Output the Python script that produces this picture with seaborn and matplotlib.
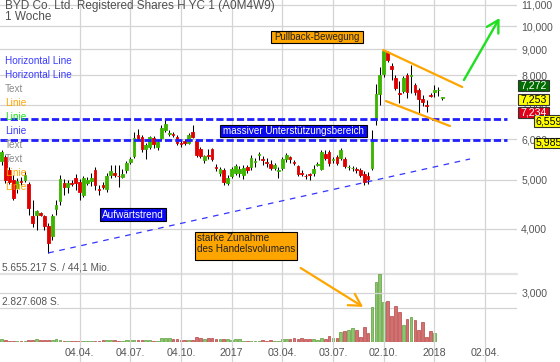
import numpy as np
import pandas as pd
import matplotlib
matplotlib.use("Agg")
import matplotlib.pyplot as plt
import matplotlib.dates as mdates
import matplotlib.transforms as mtransforms
from matplotlib.patches import Rectangle
from matplotlib.ticker import FixedLocator, FuncFormatter, NullLocator, NullFormatter
import seaborn as sns

sns.set_theme(style="white")
plt.rcParams['font.family'] = ['Liberation Sans', 'DejaVu Sans']

# ---------------- data ----------------
title = "BYD Co. Ltd. Registered Shares H YC 1 (A0M4W9)"
period = "1 Woche"
first_week = "2015-11-16"

open_ = [
    5437, 5537, 5221, 4991, 4812, 4970, 4991, 4900, 4240, 4261,
    4290, 4240, 4050, 3875, 4380, 4540, 4924, 4840, 4930, 5035,
    4946, 4664, 4924, 4970, 5221, 4790, 4879, 4790, 5104, 5150,
    5090, 5060, 5221, 5410, 5560, 6114, 6060, 5740, 5790, 6030,
    5790, 6030, 6254, 6140, 6140, 6060, 5900, 5950, 5900, 6200,
    5950, 5740, 5462, 5580, 5740, 5280, 5150, 5221, 4920, 5080,
    5150, 5150, 5104, 5290, 5290, 5420, 5590, 5490, 5420, 5365,
    5270, 5200, 5270, 5490, 5537, 5420, 5315, 5150, 5090, 5120,
    5150, 5340, 5250, 5612, 5660, 5462, 5537, 5510, 5490, 5280,
    5260, 5250, 5221, 5130, 5080, 5270, 6543, 7350, 8050, 8900,
    8350, 7900, 7390, 7450, 8030, 7990, 7663, 7490, 7200, 6990,
    7330, 7420, 7480, 7230]
close = [
    5663, 4991, 4946, 4600, 4970, 4950, 5104, 4400, 4110, 4340,
    4270, 4050, 3760, 4240, 4458, 5010, 4840, 4924, 4910, 4924,
    4730, 5035, 4990, 5035, 4879, 4770, 4835, 5080, 5200, 5104,
    5080, 5130, 5390, 5490, 6030, 6000, 5740, 5845, 6060, 5870,
    5925, 6315, 6425, 6170, 6115, 5900, 5870, 5900, 6114, 6060,
    5587, 5560, 5560, 5560, 5490, 5260, 5250, 4946, 5035, 5250,
    5315, 5250, 5270, 5221, 5510, 5440, 5612, 5462, 5390, 5270,
    5340, 5221, 5490, 5587, 5490, 5400, 5130, 5130, 5080, 5100,
    5250, 5365, 5660, 5510, 5390, 5490, 5390, 5714, 5315, 5290,
    5270, 5230, 5104, 4946, 5010, 5950, 7350, 8017, 8950, 8580,
    8230, 7550, 7360, 7920, 7420, 8017, 7420, 7200, 7090, 6970,
    7300, 7490, 7500, 7253]
high = [
    5714, 5587, 5280, 5104, 5030, 5050, 5200, 4946, 4560, 4358,
    4320, 4261, 4110, 4280, 4560, 5104, 5010, 4991, 4990, 5130,
    5010, 5080, 5050, 5160, 5290, 4880, 4946, 5140, 5340, 5340,
    5340, 5250, 5440, 5537, 6200, 6280, 6114, 5900, 6090, 6090,
    5978, 6396, 6570, 6254, 6200, 6114, 5978, 6000, 6170, 6400,
    6000, 5800, 5590, 5740, 5760, 5365, 5290, 5270, 5104, 5290,
    5365, 5315, 5340, 5340, 5587, 5510, 5660, 5560, 5510, 5462,
    5390, 5290, 5537, 5640, 5560, 5462, 5340, 5221, 5130, 5150,
    5340, 5410, 5714, 5714, 5714, 5537, 5587, 5770, 5537, 5340,
    5315, 5290, 5270, 5200, 5170, 6254, 7700, 8330, 8977, 8950,
    8460, 8017, 7800, 7980, 8090, 8388, 7730, 7560, 7324, 7160,
    7390, 7663, 7600, 7272]
low = [
    5340, 4924, 4900, 4560, 4700, 4880, 4950, 4261, 4030, 3982,
    4240, 3982, 3590, 3806, 4261, 4458, 4664, 4700, 4850, 4770,
    4560, 4620, 4880, 4850, 4770, 4664, 4790, 4720, 5035, 5060,
    4840, 5035, 5150, 5365, 5510, 5978, 5660, 5490, 5740, 5770,
    5714, 5978, 6200, 6090, 6060, 5845, 5800, 5845, 5870, 6030,
    5540, 5510, 5400, 5490, 5440, 5200, 5080, 4879, 4879, 5035,
    5104, 5060, 5010, 5150, 5221, 5290, 5462, 5340, 5290, 5221,
    5221, 5035, 5221, 5420, 5390, 5340, 5080, 5080, 5010, 4991,
    5080, 5315, 5221, 5462, 5315, 5390, 5340, 5462, 5270, 5221,
    5200, 5150, 5060, 4879, 4900, 5221, 6396, 7000, 7950, 8500,
    7840, 7490, 7070, 7390, 7220, 7390, 7324, 6750, 6970, 6780,
    7260, 7250, 7290, 7160]
volume_mio = [
    0.20, 0.14, 0.08, 0.08, 0.06, 0.06, 0.06, 0.17, 0.17, 0.22,
    0.17, 0.14, 0.14, 0.14, 0.20, 0.14, 0.08, 0.06, 0.06, 0.06,
    0.06, 0.06, 0.06, 0.08, 0.06, 0.06, 0.14, 0.14, 0.17, 0.14,
    0.06, 0.06, 0.11, 0.14, 0.17, 0.14, 0.14, 0.14, 0.11, 0.06,
    0.06, 0.28, 0.31, 0.31, 0.22, 0.19, 0.14, 0.14, 0.14, 0.17,
    0.36, 0.31, 0.25, 0.28, 0.33, 0.25, 0.19, 0.19, 0.19, 0.17,
    0.19, 0.19, 0.06, 0.04, 0.04, 0.04, 0.04, 0.14, 0.06, 0.14,
    0.06, 0.06, 0.20, 0.20, 0.20, 0.28, 0.22, 0.33, 0.20, 0.20,
    0.20, 0.14, 0.31, 0.25, 0.47, 0.31, 0.31, 0.78, 0.92, 0.98,
    1.11, 0.98, 0.42, 1.20, 0.75, 2.93, 4.96, 5.655, 3.29, 3.43,
    2.15, 2.98, 2.48, 1.37, 1.87, 2.09, 1.81, 0.98, 1.64, 0.36,
    0.92, 0.70, 0.00, 0.00]
volume_max_mio = 5.655217

tick_dates = ["2016-04-04", "2016-07-04", "2016-10-04", "2017-01-02", "2017-04-03",
              "2017-07-03", "2017-10-02", "2018-01-01", "2018-04-02"]
tick_labels = ["04.04.", "04.07.", "04.10.", "2017", "03.04.", "03.07.", "02.10.", "2018", "02.04."]
price_ticks = [3000, 4000, 5000, 6000, 7000, 8000, 9000, 10000, 11000]

support_levels = [6559, 5985]
support_end = "2018-05-11"
uptrend_dates = ["2016-02-08", "2018-03-06"]
uptrend_prices = [3590, 5487]
channel_upper_dates = ["2017-10-01", "2018-02-20"]
channel_upper_prices = [8977, 7593]
channel_lower_dates = ["2017-10-06", "2018-01-29"]
channel_lower_prices = [7128, 6367]
green_arrow_dates = ["2018-02-23", "2018-04-28"]
green_arrow_prices = [7837, 10368]
volume_arrow_dates = ["2017-05-06", "2017-08-26"]
volume_arrow_prices = [3354, 2814]

legend_items = [("Horizontal Line", "#3b3bff"), ("Horizontal Line", "#3b3bff"), ("Text", "#8c8c8c"),
                ("Linie", "#ffa500"), ("Linie", "#1ee81e"), ("Linie", "#3b3bff"), ("Text", "#8c8c8c"),
                ("Text", "#8c8c8c"), ("Linie", "#ffa500"), ("Linie", "#ffa500")]

# ---------------- layout helpers ----------------
W, H = 560, 362
def fx(px): return px / W
def fy(py): return 1 - py / H

fig = plt.figure(figsize=(W / 100, H / 100), dpi=100)
fig.patch.set_facecolor("white")

ax_v = fig.add_axes([0, fy(341.7), fx(517), (341.7 - 274) / H], zorder=0)
ax = fig.add_axes([0, 0, fx(517), 1], zorder=1)
ax.patch.set_alpha(0)

dates = pd.date_range(first_week, periods=len(open_), freq="7D")
xd = mdates.date2num(dates)
def dn(s): return mdates.date2num(pd.Timestamp(s))

px_per_day = 3.9 / 7
xmin = xd[0] - 1.5 / px_per_day
xmax = xmin + 517 / px_per_day
ax.set_xlim(xmin, xmax)
ax_v.set_xlim(xmin, xmax)

ax.set_yscale("log")
ax.set_ylim(2194, 11248)
ax.yaxis.set_major_locator(FixedLocator(price_ticks))
ax.yaxis.set_minor_locator(NullLocator())
ax.yaxis.set_minor_formatter(NullFormatter())
ax.yaxis.set_major_formatter(FuncFormatter(lambda v, p: f"{int(round(v)):,}"))
ax.yaxis.tick_right()
ax.tick_params(axis="y", length=0, pad=3, labelsize=7.6, labelcolor="#555555")
ax.set_xticks(mdates.date2num(pd.to_datetime(tick_dates)))
ax.set_xticklabels([])
ax.tick_params(axis="x", length=0)
ax.grid(True, color="#d4d4d4", lw=0.9)
for s in ax.spines.values():
    s.set_visible(False)
ax_v.axis("off")

trans = mtransforms.blended_transform_factory(ax.transData, ax.transAxes)
for d, lab in zip(tick_dates, tick_labels):
    ax.text(dn(d), fy(353), lab, transform=trans, ha="center", va="center",
            fontsize=7.7, color="#555555")

# ---------------- volume ----------------
o = np.array(open_, float); c = np.array(close, float)
h = np.array(high, float); l = np.array(low, float)
up = c >= o
vol_fc = np.where(up, "#8cc66c", "#d57070")
vol_ec = np.where(up, "#5c9c3c", "#b54545")
ax_v.bar(xd, volume_mio, width=4.7, color=vol_fc, edgecolor=vol_ec, lw=0.5, zorder=2)
ax_v.set_ylim(0, volume_max_mio)
ax_v.axhline(volume_max_mio, color="#e2e2e2", lw=1.6, zorder=1, clip_on=False)
ax_v.axhline(volume_max_mio / 2, color="#d4d4d4", lw=0.9, zorder=1)
fig.text(fx(2), fy(268), "5.655.217 S. / 44,1 Mio.", fontsize=7.3, color="#555555", va="center")
fig.text(fx(2), fy(302), "2.827.608 S.", fontsize=7.3, color="#555555", va="center")

# ---------------- candles ----------------
body_c = np.where(up, "#3cb400", "#e00000")
ax.vlines(xd, l, h, color="black", lw=0.75, zorder=3)
ax.bar(xd, np.abs(c - o), bottom=np.minimum(o, c), width=4.8, color=body_c,
       edgecolor=body_c, lw=0.6, zorder=4)

# ---------------- drawn lines ----------------
ax.hlines(support_levels, xmin, dn(support_end), colors="#1f1fff", lw=2.0,
          linestyles=(0, (2.6, 1.1)), zorder=5)
ax.plot([dn(d) for d in uptrend_dates], uptrend_prices, color="#3434ff", lw=0.9,
        dashes=(4.5, 4.5), zorder=5)
ax.plot([dn(d) for d in channel_upper_dates], channel_upper_prices, color="#ffa500", lw=1.6, zorder=5)
ax.plot([dn(d) for d in channel_lower_dates], channel_lower_prices, color="#ffa500", lw=1.6, zorder=5)
ax.annotate("", xy=(dn(green_arrow_dates[1]), green_arrow_prices[1]),
            xytext=(dn(green_arrow_dates[0]), green_arrow_prices[0]),
            arrowprops=dict(arrowstyle="->,head_length=0.7,head_width=0.4", color="#1ee01e",
                            lw=1.7, mutation_scale=12, shrinkA=0, shrinkB=0), zorder=6)
ax.annotate("", xy=(dn(volume_arrow_dates[1]), volume_arrow_prices[1]),
            xytext=(dn(volume_arrow_dates[0]), volume_arrow_prices[0]),
            arrowprops=dict(arrowstyle="->,head_length=0.7,head_width=0.4", color="#ffa500",
                            lw=1.6, mutation_scale=12, shrinkA=0, shrinkB=0), zorder=6)

# ---------------- boxes / texts ----------------
def box(x0, y0, x1, y1, fc, ec="black"):
    fig.patches.append(Rectangle((fx(x0), fy(y1)), fx(x1) - fx(x0), fy(y0) - fy(y1),
                                 transform=fig.transFigure, facecolor=fc, edgecolor=ec,
                                 lw=0.8, zorder=5))

box(271, 31, 363, 43, "#ffa500")
fig.text(fx(317), fy(37.3), "Pullback-Bewegung", fontsize=7, color="#222222", ha="center", va="center", zorder=6)
box(220, 125, 367, 137, "#0a0af0")
fig.text(fx(293.5), fy(131.3), "massiver Unterstützungsbereich", fontsize=7.1, color="white", ha="center", va="center", zorder=6)
box(100, 208, 166, 221, "#0a0af0")
fig.text(fx(133), fy(214.8), "Aufwärtstrend", fontsize=7.2, color="white", ha="center", va="center", zorder=6)
box(195, 232, 297, 260, "#ffa500")
fig.text(fx(197), fy(237.8), "starke Zunahme", fontsize=7.2, color="#222222", ha="left", va="center", zorder=6)
fig.text(fx(197), fy(248.5), "des Handelsvolumens", fontsize=7.2, color="#222222", ha="left", va="center", zorder=6)

# right side price boxes
box(518, 80, 549, 91, "#006c00", "#333333")
fig.text(fx(520), fy(85.7), "7,272", fontsize=7.6, color="white", va="center", zorder=6)
box(518, 94, 549, 104.5, "#ffff00", "#333333")
fig.text(fx(520), fy(99.3), "7,253", fontsize=7.6, color="black", va="center", zorder=6)
box(518, 107, 549, 117.5, "#e0001a", "#333333")
fig.text(fx(520), fy(112.3), "7,234", fontsize=7.6, color="white", va="center", zorder=6)
box(534, 115, 562, 126.7, "#ffff00", "#333333")
fig.text(fx(536), fy(121), "6,559", fontsize=7.6, color="black", va="center", zorder=7)
box(534, 137.5, 562, 147.5, "#ffff00", "#333333")
fig.text(fx(536), fy(142.6), "5,985", fontsize=7.6, color="black", va="center", zorder=7)

# title and legend-like labels
fig.text(fx(5), fy(6.5), title, fontsize=8.5, color="#505050", va="center")
fig.text(fx(5), fy(17), period, fontsize=8.5, color="#505050", va="center")
for k, (lab, col) in enumerate(legend_items):
    fig.text(fx(5), fy(61 + 14 * k), lab, fontsize=7.2, color=col, va="center")

fig.savefig("out.png", dpi=100)
